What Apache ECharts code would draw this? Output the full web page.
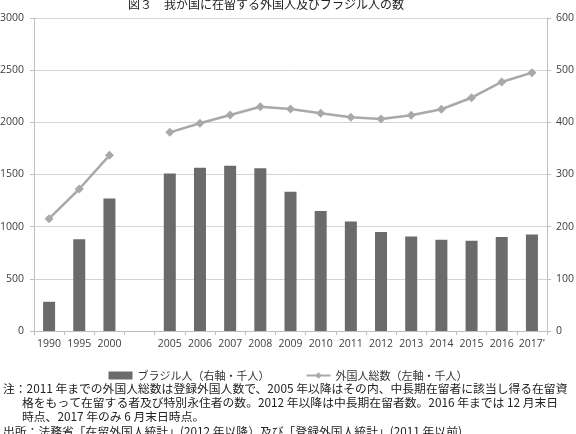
<!DOCTYPE html>
<html>
<head>
    <meta charset="utf-8">
    <title>外国人及びブラジル人の数</title>
    <script src="https://cdn.jsdelivr.net/npm/echarts@6/dist/echarts.min.js"></script>
    <style>
        html, body { margin: 0; padding: 0; background: #fff; }
        #chart { width: 576px; height: 434px; }
    </style>
</head>
<body>
    <div id="chart"></div>
    <script>
        // 年（2000と2005の間は空き）
        var years = ['1990', '1995', '2000', '', '2005', '2006', '2007', '2008', '2009', '2010',
            '2011', '2012', '2013', '2014', '2015', '2016', "2017'"];
        // ブラジル人（右軸・千人）
        var brazil = [56, 176, 254, null, 302, 313, 317, 312, 267, 230, 210, 190, 181, 175, 173, 180, 185];
        // 外国人総数（左軸・千人）
        var foreign = [1077, 1361, 1684, null, 1904, 1991, 2070, 2150, 2128, 2087, 2048, 2032, 2067, 2125, 2236, 2387, 2476];
        var leftTicks = { min: 0, max: 3000, interval: 500 };
        var rightTicks = { min: 0, max: 600, interval: 100 };

        var jp = '"Noto Sans CJK JP", sans-serif';
        var num = '"Open Sans", "Liberation Sans", sans-serif';
        var notes = [
            '注：2011 年までの外国人総数は登録外国人数で、2005 年以降はその内、中長期在留者に該当し得る在留資',
            '格をもって在留する者及び特別永住者の数。2012 年以降は中長期在留者数。2016 年までは 12 月末日',
            '時点、2017 年のみ 6 月末日時点。',
            '出所：法務省「在留外国人統計」(2012 年以降）及び「登録外国人統計」(2011 年以前)'
        ];
        function plain(v) { return String(v); }

        var chart = echarts.init(document.getElementById('chart'));
        var option = {
            animation: false,
            textStyle: { fontFamily: jp },
            title: {
                text: '図３　我が国に在留する外国人及びブラジル人の数',
                left: 261, textAlign: 'center', top: -7,
                textStyle: { fontSize: 12, fontWeight: 'normal', color: '#222', fontFamily: jp }
            },
            legend: {
                top: 365, left: 'center', itemGap: 36,
                itemWidth: 24, itemHeight: 8,
                textStyle: { fontSize: 11, color: '#333', fontFamily: jp },
                data: [
                    { name: 'ブラジル人（右軸・千人）', icon: 'rect' },
                    { name: '外国人総数（左軸・千人）' }
                ]
            },
            grid: { left: 34, right: 29, top: 18, bottom: 103, outerBoundsMode: 'none', containLabel: false },
            xAxis: {
                type: 'category',
                data: years,
                axisLine: { lineStyle: { color: '#bfbfbf' } },
                axisTick: { show: true, interval: 0, length: 4, lineStyle: { color: '#bfbfbf' } },
                axisLabel: { interval: 0, fontSize: 10.5, color: '#404040', margin: 8, fontFamily: num }
            },
            yAxis: [
                {
                    type: 'value', min: leftTicks.min, max: leftTicks.max, interval: leftTicks.interval,
                    axisLine: { show: true, lineStyle: { color: '#bfbfbf' } },
                    axisTick: { show: true, length: 4, lineStyle: { color: '#bfbfbf' } },
                    splitLine: { lineStyle: { color: '#d4d4d4', width: 1 } },
                    axisLabel: { fontSize: 10.5, color: '#404040', margin: 10, fontFamily: num, formatter: plain }
                },
                {
                    type: 'value', min: rightTicks.min, max: rightTicks.max, interval: rightTicks.interval,
                    axisLine: { show: true, lineStyle: { color: '#bfbfbf' } },
                    axisTick: { show: true, length: 4, lineStyle: { color: '#bfbfbf' } },
                    splitLine: { show: false },
                    axisLabel: { fontSize: 10.5, color: '#404040', margin: 9, fontFamily: num, formatter: plain }
                }
            ],
            series: [
                {
                    name: 'ブラジル人（右軸・千人）',
                    type: 'bar',
                    yAxisIndex: 1,
                    barWidth: 12,
                    itemStyle: { color: '#6b6b6b' },
                    data: brazil
                },
                {
                    name: '外国人総数（左軸・千人）',
                    type: 'line',
                    yAxisIndex: 0,
                    connectNulls: false,
                    symbol: 'diamond',
                    symbolSize: 9,
                    lineStyle: { color: '#a9a9a9', width: 2.5 },
                    itemStyle: { color: '#a9a9a9' },
                    data: foreign
                }
            ],
            graphic: [
                { type: 'text', left: 3, top: 383, style: { text: notes[0], fontSize: 11.8, fill: '#222', fontFamily: jp } },
                { type: 'text', left: 22, top: 397, style: { text: notes[1], fontSize: 11.8, fill: '#222', fontFamily: jp } },
                { type: 'text', left: 22, top: 411, style: { text: notes[2], fontSize: 11.8, fill: '#222', fontFamily: jp } },
                { type: 'text', left: 3, top: 426, style: { text: notes[3], fontSize: 11.8, fill: '#222', fontFamily: jp } }
            ]
        };
        chart.setOption(option);
    </script>
</body>
</html>
